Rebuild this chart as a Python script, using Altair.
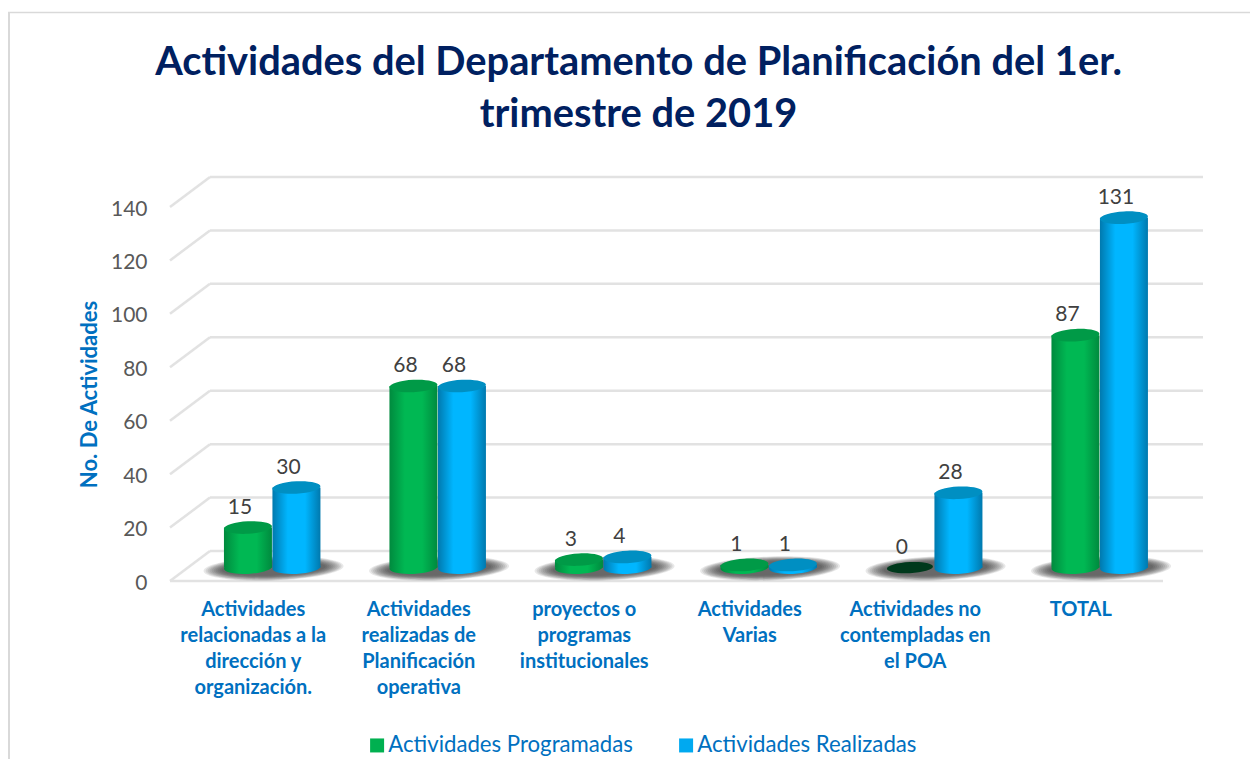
import altair as alt
import pandas as pd

categories = [
    "Actividades|relacionadas a la|dirección y|organización.",
    "Actividades|realizadas de|Planificación|operativa",
    "proyectos o|programas|institucionales",
    "Actividades|Varias",
    "Actividades no|contempladas en|el POA",
    "TOTAL",
]
programadas = [15, 68, 3, 1, 0, 87]
realizadas = [30, 68, 4, 1, 28, 131]
grid_values = [0, 20, 40, 60, 80, 100, 120, 140]
series_names = ["Actividades Programadas", "Actividades Realizadas"]

FONT = "Lato"
BLUE_TXT = "#0070C0"
DEPTH_X, DEPTH_Y = 40 / 165.5, 30 / 2.671
BASE = 5.0
BAR_W = 0.29
BAR_W_PX = 48
GREEN_C, BLUE_C, SHADOW_C = 0.471, 0.764, 0.626


def ellipse(ry, tilt=0.05):
    pts = [(-1, 0), (-1, -0.55 * ry), (-0.55, -ry), (0, -ry), (0.55, -ry), (1, -0.55 * ry), (1, 0),
           (1, 0.55 * ry), (0.55, ry), (0, ry), (-0.55, ry), (-1, 0.55 * ry), (-1, 0)]
    p = [(x, y - tilt * x) for x, y in pts]
    s = f"M{p[0][0]:.3f},{p[0][1]:.3f}"
    for k in range(1, 13, 3):
        s += " C" + " ".join(f"{a:.3f},{b:.3f}" for a, b in p[k:k + 3])
    return s + " Z"


def grad(edge, mid):
    return alt.Gradient(gradient="linear", x1=0, y1=0, x2=1, y2=0, stops=[
        alt.GradientStop(color=edge, offset=0), alt.GradientStop(color=mid, offset=0.32),
        alt.GradientStop(color=mid, offset=0.68), alt.GradientStop(color=edge, offset=1)])


rows = []
for i in range(len(categories)):
    for v, c, s in ((programadas[i], GREEN_C, series_names[0]), (realizadas[i], BLUE_C, series_names[1])):
        rows.append(dict(x=i + c, x0=i + c - BAR_W / 2, x1=i + c + BAR_W / 2, base=BASE, top=BASE + v, v=v, s=s))
bars = pd.DataFrame(rows)
shadow = pd.DataFrame(dict(x=[i + SHADOW_C for i in range(6)], y=[BASE - 0.3] * 6))
grid = pd.DataFrame(dict(
    v=grid_values,
    back=[v + DEPTH_Y for v in grid_values],
    xa=[0.0] * 8, xb=[DEPTH_X] * 8, xc=[6 + DEPTH_X] * 8))

xscale = alt.Scale(domain=[0, 6], nice=False, zero=False)
yscale = alt.Scale(domain=[0, 140], nice=False, zero=False)
X = lambda f: alt.X(f, type="quantitative", scale=xscale)
Y = lambda f: alt.Y(f, type="quantitative", scale=yscale)
GRID = "#e2e2e2"

frame_top = alt.Chart(pd.DataFrame({"a": [0]})).mark_rule(color="#d9d9d9", strokeWidth=1.5).encode(
    x=alt.value(-162), x2=alt.value(1088), y=alt.value(-194.5))
frame_left = alt.Chart(pd.DataFrame({"a": [0]})).mark_rule(color="#d9d9d9", strokeWidth=2).encode(
    x=alt.value(-161), y=alt.value(-195), y2=alt.value(556))

cat_js = repr("#".join(categories))
axes_base = alt.Chart(grid).mark_rule(strokeWidth=0, opacity=0).encode(
    x=alt.X("xa", type="quantitative", scale=xscale,
            axis=alt.Axis(values=[0.5, 1.5, 2.5, 3.5, 4.5, 5.5], title=None, domain=False, ticks=False, grid=False,
                          labelExpr="split(split(" + cat_js + ", '#')[floor(datum.value)], '|')",
                          labelFont=FONT, labelFontWeight="bold", labelFontSize=20, labelColor=BLUE_TXT,
                          labelLineHeight=26, labelPadding=18, labelAlign="center", labelBaseline="top",
                          labelOverlap=False, labelFlush=False, labelBound=False)),
    y=alt.Y("v", type="quantitative", scale=yscale,
            axis=alt.Axis(values=grid_values, domain=False, ticks=False, grid=False, title="No. De Actividades",
                          titleFont=FONT, titleFontWeight="bold", titleFontSize=22, titleColor=BLUE_TXT,
                          titleX=-81, titleY=187, titleAngle=270, titleAlign="center", titleBaseline="middle",
                          labelFont=FONT, labelFontSize=21, labelColor="#595959", labelPadding=23, labelOffset=2)),
)

g_back = alt.Chart(grid).mark_rule(color=GRID, strokeWidth=2.5).encode(x=X("xb"), x2="xc", y=Y("back"))
diag_rows = pd.DataFrame(
    [dict(x=0.0, y=v, k=v) for v in grid_values] + [dict(x=DEPTH_X, y=v + DEPTH_Y, k=v) for v in grid_values])
g_diag = alt.Chart(diag_rows).mark_line(color=GRID, strokeWidth=2.5).encode(x=X("x"), y=Y("y"), detail="k:N")
g_front = alt.Chart(grid[grid.v == 0]).mark_rule(color=GRID, strokeWidth=2.5).encode(
    x=X("xa"), x2=alt.X2(datum=6), y=Y("v"))

shadows = []
for hw, ry in ((70, 12), (68, 11.5), (66, 11), (64, 10.5), (62, 10), (60, 9.5), (58, 9), (56, 8.5), (54, 8), (52, 7)):
    shadows.append(alt.Chart(shadow).mark_point(
        shape=ellipse(ry / hw, 0.035), size=(2 * hw) ** 2, fill="#1e1e1e", strokeWidth=0, opacity=0.1, filled=True
    ).encode(x=X("x"), y=Y("y")))

GREEN_G = grad("#008A3E", "#00B853")
BLUE_G = grad("#0079AE", "#00B6FF")
TOPS = {series_names[0]: "#009A47", series_names[1]: "#008FC2"}


def series_layers(name, g):
    d = bars[(bars.s == name) & (bars.v > 0)]
    path = ellipse(0.26)
    return [
        alt.Chart(d).mark_point(shape=path, size=BAR_W_PX ** 2, fill=g, filled=True, opacity=1, strokeWidth=0)
        .encode(x=X("x"), y=Y("base")),
        alt.Chart(d).mark_rect(fill=g).encode(x=X("x0"), x2="x1", y=Y("base"), y2="top"),
        alt.Chart(d).mark_point(shape=path, size=BAR_W_PX ** 2, fill=TOPS[name], filled=True, opacity=1, strokeWidth=0)
        .encode(x=X("x"), y=Y("top")),
    ]


zero = bars[bars.v == 0]
zero_l = alt.Chart(zero).mark_point(shape=ellipse(0.24), size=46 ** 2, fill="#00391C", filled=True, opacity=1,
                                    strokeWidth=0).encode(x=X("x"), y=Y("top"))

labels = alt.Chart(bars).mark_text(font=FONT, fontSize=21, color="#404040", dx=-8, dy=-20, baseline="middle").encode(
    x=X("x"), y=Y("top"), text=alt.Text("v:Q"))

legend_l = alt.Chart(pd.DataFrame(dict(s=series_names, x=[0.0, 0.0], y=[0.0, 0.0]))).mark_point(
    filled=True, shape="square", size=0, opacity=1
).encode(
    x=X("x"), y=Y("y"),
    color=alt.Color("s:N", scale=alt.Scale(domain=series_names, range=["#00B050", "#00A9F0"]), legend=alt.Legend(
        orient="none", legendX=196, legendY=527, direction="horizontal", title=None, symbolType="square",
        symbolSize=196, symbolStrokeWidth=0, symbolOpacity=1, labelFont=FONT, labelFontSize=22.2, labelColor=BLUE_TXT,
        labelOffset=0, columnPadding=42, padding=0, labelLimit=400)),
)

chart = alt.layer(
    frame_top, frame_left, axes_base, g_back, g_diag, g_front, *shadows,
    *series_layers(series_names[0], GREEN_G), *series_layers(series_names[1], BLUE_G),
    zero_l, labels, legend_l,
).properties(
    width=993, height=374,
    padding={"left": 162, "top": 199, "right": 87, "bottom": 178},
    autosize=alt.AutoSizeParams(type="none"),
    background="white",
    title=alt.TitleParams(
        text=["Actividades del Departamento de Planificación del 1er.", "trimestre de 2019"],
        font=FONT, fontSize=39.8, fontWeight="bold", color="#002060", lineHeight=52,
        anchor="middle", dx=-28, offset=-125),
).configure_view(stroke="transparent", strokeWidth=0)

chart.save("out.html", embed_options={"renderer": "svg", "actions": False})
